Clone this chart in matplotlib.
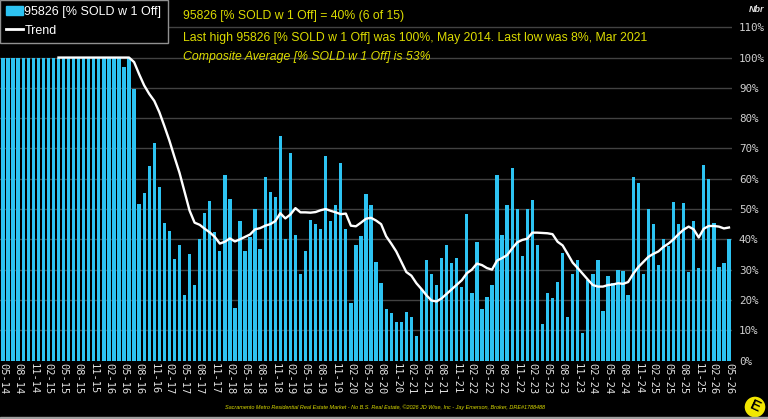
import numpy as np
import matplotlib
matplotlib.use("Agg")
import matplotlib.pyplot as plt
import pandas as pd
from matplotlib.patches import Ellipse, Rectangle
from matplotlib.lines import Line2D

# monthly % sold with one offer, May 2014 .. May 2026
pct_sold = [100] * 24 + [
    97, 100, 89.5, 51.6, 55.2, 64.2, 71.9, 57.4, 45.5, 42.9, 33.4, 38.2,
    21.7, 35.1, 25.0, 40.0, 48.6, 52.5, 42.4, 36.3, 61.1, 53.2, 17.2, 45.9,
    36.0, 40.9, 49.9, 36.8, 60.7, 55.6, 53.9, 74.1, 40.0, 68.4, 41.3, 28.5,
    36.0, 46.4, 45.1, 43.3, 67.5, 45.9, 51.3, 65.1, 43.3, 19.1, 38.2, 41.1,
    55.0, 51.3, 32.5, 25.5, 17.1, 15.8, 12.8, 12.8, 16.0, 14.2, 8.0, 23.5,
    33.2, 28.4, 24.9, 34.0, 38.1, 32.3, 33.9, 24.1, 48.3, 22.2, 39.2, 17.1,
    21.1, 24.9, 61.2, 41.5, 51.3, 63.6, 49.9, 34.5, 49.9, 52.9, 38.0, 12.0,
    22.2, 20.7, 26.0, 35.4, 14.2, 28.4, 33.2, 9.0, 26.6, 28.4, 33.2, 16.5,
    27.9, 25.5, 29.9, 29.5, 21.5, 60.7, 58.5, 28.5, 49.9, 45.1, 31.5, 40.0,
    37.8, 52.4, 45.1, 51.9, 29.3, 46.2, 30.4, 64.6, 59.9, 45.5, 30.7, 32.1,
    40.0]

# trend line, starts Apr 2015 (12th month)
trend_start = 11
trend = [100] * 15 + [
    98.5, 94.5, 90.8, 88, 85.7, 82, 77.4, 72.6, 67.2, 62, 55.8, 49.5,
    45.5, 44.8, 43.5, 42.3, 40.8, 38.6, 39.2, 40.3, 39.3, 40, 40.8, 41.6,
    43.3, 43.7, 44.5, 45, 46, 48.6, 46.9, 48.2, 50.3, 48.9, 48.9, 48.8,
    49, 49.6, 50, 49.4, 48.9, 48.3, 48.5, 44.5, 44.3, 45.5, 46.8, 47.1,
    46.2, 45, 41, 38.6, 36, 32.6, 29.2, 28, 25.5, 23.6, 21.5, 19.8,
    19.5, 20.5, 22, 23.5, 25, 26.5, 28.8, 30, 32, 31.5, 30.5, 30,
    33, 33.8, 34.8, 37, 39, 39.8, 40.2, 42.2, 42.2, 42.1, 42, 41.7,
    39.2, 38, 35.2, 32.3, 30.5, 28.6, 26.7, 24.9, 24.4, 24.4, 24.9, 25.1,
    25.5, 25.3, 25.9, 28.6, 30.8, 32.5, 34.2, 35.2, 36, 37.5, 38.6, 40,
    41.7, 43.2, 44.2, 43.3, 40.6, 43.5, 44.4, 44.4, 44.2, 43.6, 43.9]

months = pd.date_range("2014-05-01", periods=len(pct_sold), freq="MS")
month_labels = [m.strftime("%m-%y") for m in months]
y_ticks = list(range(0, 111, 10))

W, H = 768, 419
fig = plt.figure(figsize=(W / 100, H / 100), dpi=100, facecolor="black")
ax = fig.add_axes([0, 1 - 360.5 / H, 732 / W, 360.5 / H], facecolor="black")

bar_color = "#2DC3F2"
x = np.arange(len(pct_sold))
ax.bar(x, pct_sold, width=0.66, color=bar_color, zorder=2)
tx = np.arange(trend_start, trend_start + len(trend))
ax.plot(tx, trend, color="white", lw=1.7, zorder=3)

ax.set_xlim(-0.6, 144.6)
ax.set_ylim(0, 119)
for s in ax.spines.values():
    s.set_visible(False)
for yv in y_ticks:
    ax.axhline(yv, color="#424242", lw=1, zorder=1)

mono = "DejaVu Sans Mono"
ax.yaxis.tick_right()
ax.set_yticks(y_ticks)
ax.set_yticklabels([f"{v}%" for v in y_ticks], fontfamily=mono, fontsize=7.8, color="#d0d0d0")
ax.set_xticks(x[::3])
ax.set_xticklabels(month_labels[::3], rotation=270, fontfamily=mono, fontsize=7.5, color="#e0e0e0")
ax.tick_params(axis="y", length=0, pad=5)
ax.tick_params(axis="x", length=0, pad=2)

# legend box
handles = [Rectangle((0, 0), 1, 1, color=bar_color), Line2D([0], [0], color="white", lw=2)]
leg = ax.legend(handles, ["95826 [% SOLD w 1 Off]", "Trend"], loc="upper left",
                bbox_to_anchor=(0, 1), borderaxespad=0, frameon=True, fancybox=False,
                facecolor="black", edgecolor="#909090", framealpha=1,
                prop={"family": "Liberation Sans", "size": 9}, labelcolor="white",
                handlelength=1.3, handletextpad=0.15, borderpad=0.5, labelspacing=0.5)
leg.get_frame().set_linewidth(1)

yel = "#DCDC00"
fig.text(183 / W, 1 - 16 / H, "95826 [% SOLD w 1 Off] = 40% (6 of 15)", color=yel,
         fontsize=8.8, family="Liberation Sans", va="center")
fig.text(183 / W, 1 - 38 / H, "Last high 95826 [% SOLD w 1 Off] was 100%, May 2014. Last low was 8%, Mar 2021",
         color=yel, fontsize=8.8, family="Liberation Sans", va="center")
fig.text(183 / W, 1 - 57 / H, "Composite Average [% SOLD w 1 Off] is 53%", color=yel,
         fontsize=8.8, family="Liberation Sans", style="italic", va="center")
fig.text(757 / W, 1 - 10 / H, "Nbr", color="#e0e0e0", fontsize=6.5, family="Liberation Sans",
         style="italic", weight="bold", ha="center", va="center")

fig.text(385 / W, 1 - 407 / H,
         "Sacramento Metro Residential Real Estate Market - No B.S. Real Estate, \u00a92026 JD Wise, Inc - Jay Emerson, Broker, DRE#1788488",
         color=yel, fontsize=4.0, family="Liberation Sans", style="italic", ha="center", va="center")

# logo
fig.add_artist(Ellipse((755 / W, 1 - 407 / H), 22 / W, 22 / H, transform=fig.transFigure,
                       facecolor="#F2E600", edgecolor="black", lw=1))
fig.text(755 / W, 1 - 407 / H, "E", color="black", fontsize=11, weight="bold",
         family="Liberation Sans", rotation=-25, ha="center", va="center")

fig.add_artist(Rectangle((0, 0), 1, 2 / H, transform=fig.transFigure, color="#a0a0a0"))

fig.savefig("out.png", dpi=100, facecolor="black")
